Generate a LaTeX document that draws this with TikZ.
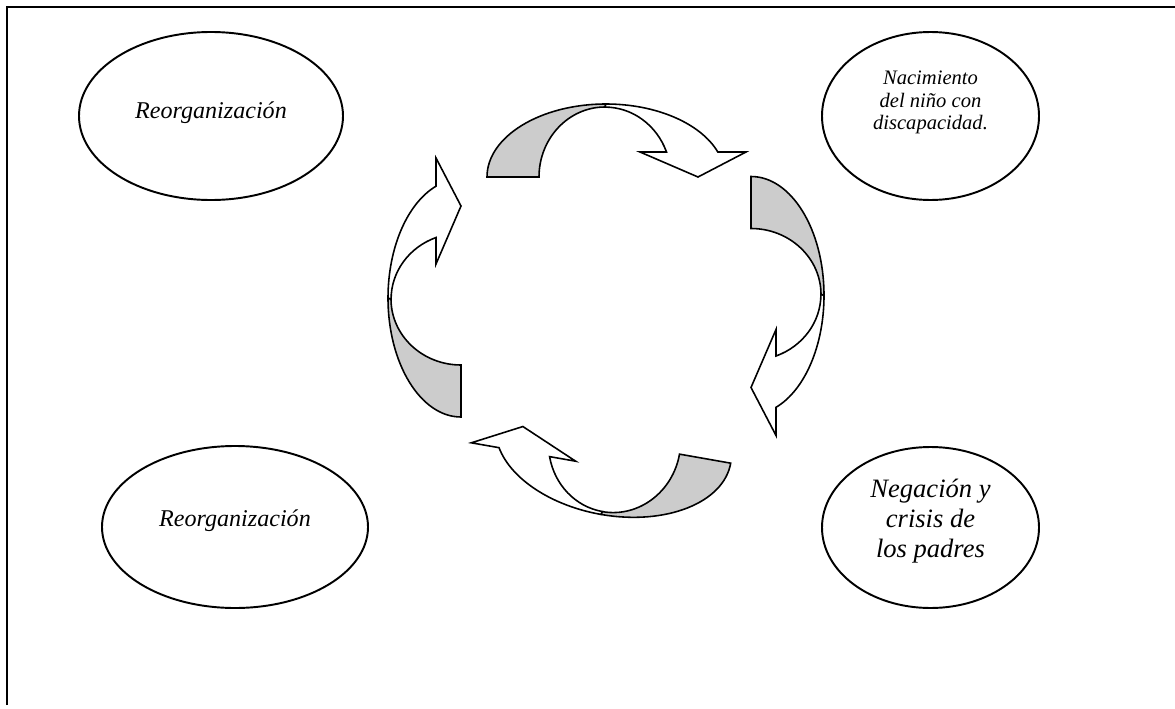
\documentclass[tikz,border=0pt]{standalone}
\usepackage{fontspec}
\setmainfont{Liberation Serif}
\usetikzlibrary{shapes.geometric}
\definecolor{cyGray}{HTML}{CCCCCC}
\tikzset{
    cyRibbon/.style={fill=cyGray, draw=black, line width=0.9pt},
    cyFront/.style={fill=white, draw=black, line width=0.9pt},
    % curved arrow, origin at the centre of its outer arc
    pics/cyArrow/.style={code={
        % back of the ribbon
        \draw[cyRibbon] (-2.38,0) arc[start angle=180, end angle=90, x radius=2.38, y radius=1.46]
            -- (-0.02,1.40) arc[start angle=90, end angle=180, x radius=1.32, y radius=1.40] -- cycle;
        % front with the head
        \draw[cyFront] (0,1.46) arc[start angle=90, end angle=20, x radius=2.38, y radius=1.46]
            -- (2.80,0.50) -- (1.84,0) -- (0.68,0.50) -- (1.21,0.50)
            arc[start angle=21, end angle=90, x radius=1.32, y radius=1.40] -- cycle;
    }}
}

\begin{document}
\begin{tikzpicture}[
  phase/.style={ellipse, draw, line width=1.1pt, inner sep=0pt},
  phaseText/.style={align=center, inner sep=0pt},
  frameLine/.style={line width=1.1pt}
]
\useasboundingbox (0,0) rectangle (23.5,14.16);

% ===== frame (top and left edge) =====
\coordinate (frameBL) at (0.14,0.06);
\coordinate (frameTL) at (0.14,14.02);
\coordinate (frameTR) at (23.5,14.02);
\draw[frameLine] (frameBL) -- (frameTL) -- (frameTR);

% ===== stages =====
\node[phase, minimum width=5.28cm, minimum height=3.36cm] (reorgTop) at (4.22,11.84) {};
\node[phaseText, font=\fontsize{13.7}{16}\selectfont\itshape] (reorgTopTxt)
      at ([yshift=0.07cm]reorgTop.center) {Reorganización};

\node[phase, minimum width=4.34cm, minimum height=3.36cm] (birth) at (18.61,11.84) {};
\node[phaseText, font=\fontsize{11.7}{12.9}\selectfont\itshape] (birthTxt)
      at ([yshift=0.27cm]birth.center) {Nacimiento\\del niño con\\discapacidad.};

\node[phase, minimum width=5.32cm, minimum height=3.24cm] (reorgBot) at (4.70,3.62) {};
\node[phaseText, font=\fontsize{13.7}{16}\selectfont\itshape] (reorgBotTxt)
      at ([yshift=0.13cm]reorgBot.center) {Reorganización};

\node[phase, minimum width=4.34cm, minimum height=3.22cm] (denial) at (18.61,3.61) {};
\node[phaseText, font=\fontsize{15.1}{17}\selectfont\itshape] (denialTxt)
      at ([yshift=0.13cm]denial.center) {Negación y\\crisis de\\los padres};

% ===== cycle of arrows =====
\pic (arrTop) at (12.12,10.62) {cyArrow};
\pic[rotate=-90] (arrRight) at (15.02,8.25) {cyArrow};
\pic[rotate=170] (arrBottom) at (12.27,5.31) {cyArrow};
\pic[rotate=90] (arrLeft) at (9.22,8.20) {cyArrow};

\end{tikzpicture}
\end{document}
